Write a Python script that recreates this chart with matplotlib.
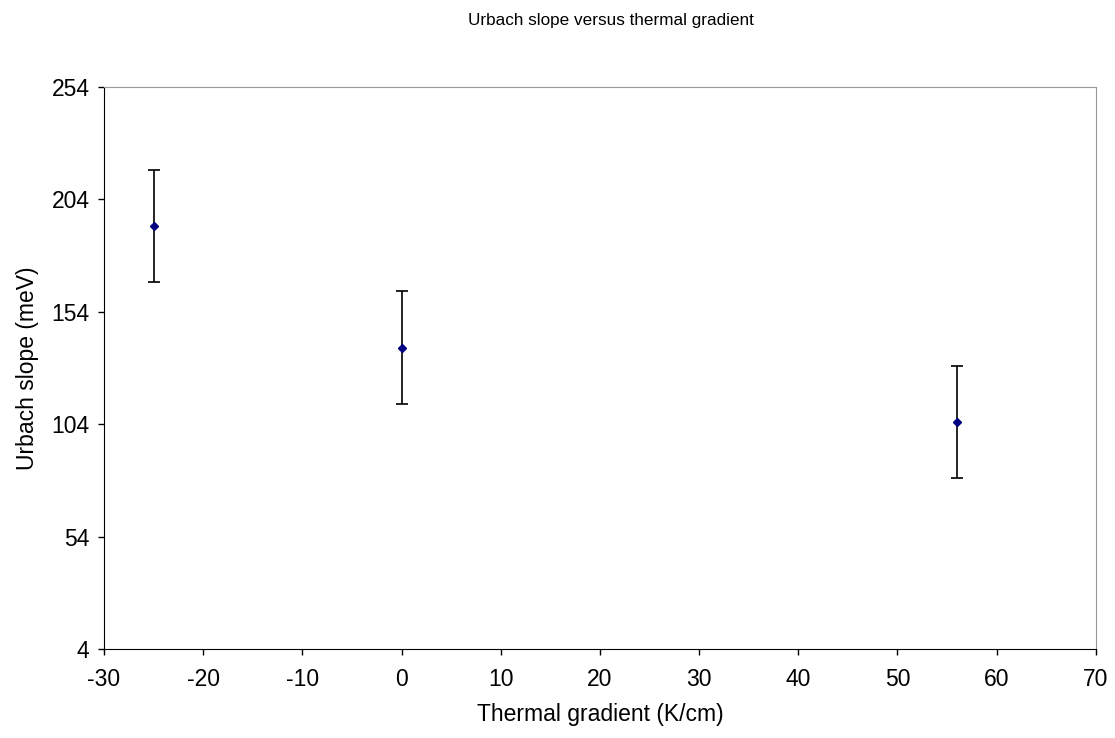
import matplotlib
matplotlib.use("Agg")
import matplotlib.pyplot as plt

plt.rcParams['font.family'] = ['Liberation Sans', 'DejaVu Sans']
plt.rcParams['axes.unicode_minus'] = False

# data
gradient = [-25, 0, 56]
slope = [192, 138, 105]
slope_err = [25, 25, 25]

xticks = [-30, -20, -10, 0, 10, 20, 30, 40, 50, 60, 70]
yticks = [4, 54, 104, 154, 204, 254]

fig = plt.figure(figsize=(11.15, 7.38), dpi=100)
ax = fig.add_axes([0.0933, 0.1206, 0.8894, 0.7619])

ax.errorbar(gradient, slope, yerr=slope_err, fmt='D', color='#000080',
            markersize=4.5, ecolor='black', elinewidth=1.2, capsize=4, capthick=1.2)

ax.set_xlim(-30, 70)
ax.set_ylim(4, 254)
ax.set_xticks(xticks)
ax.set_yticks(yticks)
ax.tick_params(direction='out', length=4.5, width=1, labelsize=16.5)
ax.tick_params(axis='x', pad=9)
ax.tick_params(axis='y', pad=6)

for side in ['top', 'right']:
    ax.spines[side].set_color('#999999')
for side in ['left', 'bottom']:
    ax.spines[side].set_color('black')

ax.set_xlabel('Thermal gradient (K/cm)', fontsize=16.5, labelpad=9)
ax.set_ylabel('Urbach slope (meV)', fontsize=16.5, labelpad=9)
fig.text(0.548, 0.972, 'Urbach slope versus thermal gradient', fontsize=12.3,
         ha='center', va='center')

fig.savefig('out.png', dpi=100)
